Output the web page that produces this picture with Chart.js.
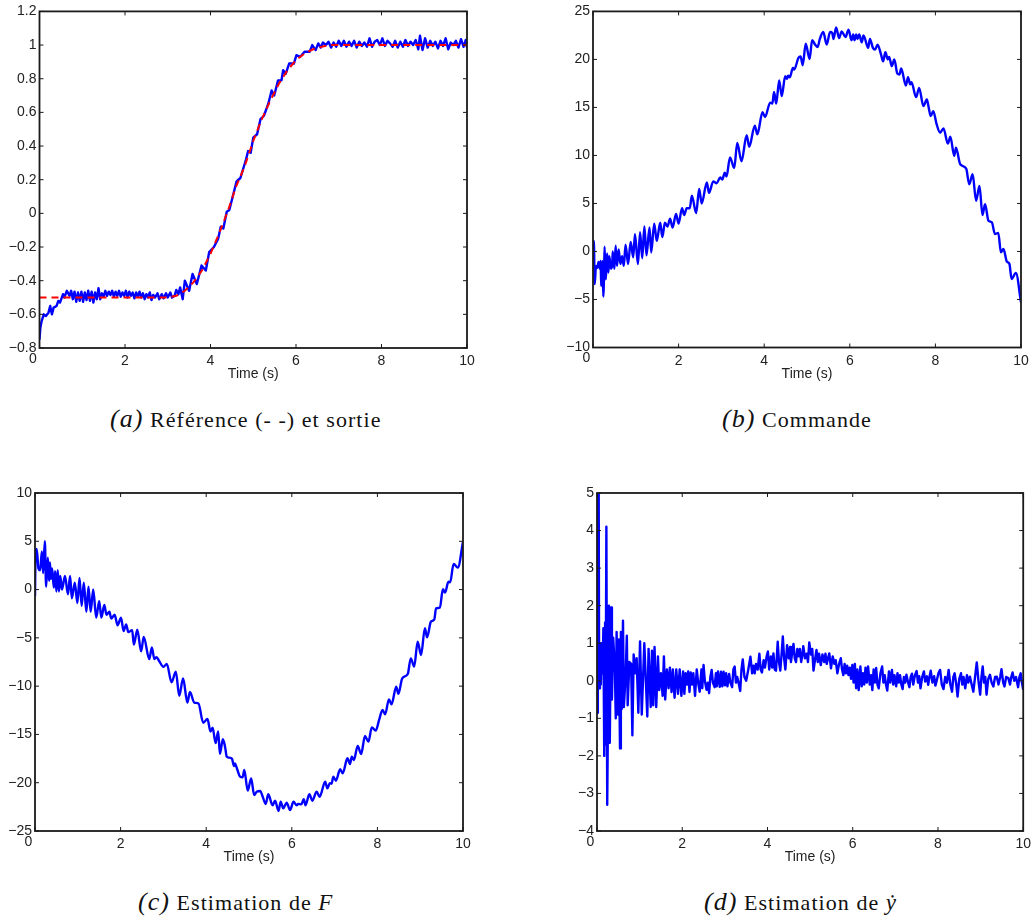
<!DOCTYPE html>
<html>
<head>
<meta charset="utf-8">
<title>Estimation</title>
<script src="https://cdn.jsdelivr.net/npm/chart.js@4"></script>
<style>
body { margin: 0; background: #fff; }
canvas { position: absolute; }
.cap { position: absolute; font-family: "Liberation Serif", serif; font-size: 22px; line-height: 26px; letter-spacing: 1.05px; color: #111; white-space: nowrap; }
.cap i { font-size: 26px; }
.cap i.v { font-size: 23px; }
</style>
</head>
<body>
<canvas id="chartA" width="518" height="400" style="left:0;top:0"></canvas>
<canvas id="chartB" width="518" height="400" style="left:518px;top:0"></canvas>
<canvas id="chartC" width="518" height="400" style="left:0;top:470px"></canvas>
<canvas id="chartD" width="518" height="400" style="left:518px;top:470px"></canvas>
<div class="cap" style="left:110px;top:406px"><i>(a)</i> Référence (- -) et sortie</div>
<div class="cap" style="left:722px;top:406px"><i>(b)</i> Commande</div>
<div class="cap" style="left:138px;top:889px"><i>(c)</i> Estimation de <i class="v">F</i></div>
<div class="cap" style="left:704px;top:889px"><i>(d)</i> Estimation de <i class="v">ẏ</i></div>
<script>
const xTicks = [0, 2, 4, 6, 8, 10]
const yTicksA = [-0.8, -0.6, -0.4, -0.2, 0, 0.2, 0.4, 0.6, 0.8, 1, 1.2]
const yTicksB = [-10, -5, 0, 5, 10, 15, 20, 25]
const yTicksC = [-25, -20, -15, -10, -5, 0, 5, 10]
const yTicksD = [-4, -3, -2, -1, 0, 1, 2, 3, 4, 5]

const reference = [[0,-0.5],[3,-0.5],[3.2,-0.49],[3.4,-0.46],[3.6,-0.41],[3.8,-0.34],[4,-0.24],[4.2,-0.12],[4.4,0.01],[4.6,0.16],[4.8,0.28],[5,0.43],[5.2,0.56],[5.4,0.67],[5.6,0.77],[5.8,0.85],[6,0.91],[6.2,0.95],[6.4,0.975],[6.6,0.99],[6.8,1],[10,1]]

const sortie = [[0,-0.75],[0.02,-0.68],[0.05,-0.64],[0.1,-0.6],[0.15,-0.61],[0.21,-0.59],[0.25,-0.55],[0.29,-0.6],[0.33,-0.56],[0.4,-0.55],[0.44,-0.52],[0.48,-0.53],[0.55,-0.48],[0.58,-0.5],[0.64,-0.46],[0.7,-0.49],[0.74,-0.46],[0.78,-0.51],[0.82,-0.465],[0.86,-0.525],[0.9,-0.47],[0.94,-0.52],[0.98,-0.465],[1.02,-0.525],[1.06,-0.47],[1.1,-0.515],[1.14,-0.46],[1.18,-0.52],[1.22,-0.465],[1.26,-0.53],[1.3,-0.47],[1.34,-0.51],[1.38,-0.445],[1.42,-0.51],[1.46,-0.475],[1.5,-0.495],[1.54,-0.46],[1.58,-0.49],[1.62,-0.465],[1.66,-0.485],[1.7,-0.46],[1.74,-0.495],[1.78,-0.465],[1.82,-0.49],[1.86,-0.46],[1.9,-0.495],[1.94,-0.47],[1.98,-0.49],[2.02,-0.46],[2.06,-0.5],[2.1,-0.465],[2.14,-0.49],[2.18,-0.47],[2.22,-0.505],[2.26,-0.47],[2.3,-0.495],[2.34,-0.465],[2.38,-0.5],[2.42,-0.475],[2.46,-0.51],[2.5,-0.48],[2.54,-0.5],[2.58,-0.47],[2.62,-0.515],[2.66,-0.485],[2.7,-0.5],[2.76,-0.475],[2.8,-0.51],[2.86,-0.48],[2.9,-0.505],[2.96,-0.475],[3,-0.5],[3.06,-0.47],[3.1,-0.5],[3.16,-0.49],[3.2,-0.455],[3.25,-0.48],[3.29,-0.44],[3.35,-0.51],[3.4,-0.4],[3.5,-0.46],[3.58,-0.36],[3.68,-0.42],[3.79,-0.31],[3.89,-0.34],[3.97,-0.23],[4.08,-0.2],[4.18,-0.15],[4.24,-0.08],[4.3,-0.09],[4.38,0.01],[4.44,0.02],[4.51,0.09],[4.61,0.19],[4.7,0.21],[4.83,0.32],[4.88,0.37],[4.94,0.36],[5,0.45],[5.09,0.47],[5.17,0.56],[5.25,0.58],[5.35,0.65],[5.43,0.73],[5.49,0.7],[5.58,0.79],[5.66,0.79],[5.7,0.85],[5.76,0.83],[5.84,0.89],[5.95,0.89],[6.01,0.94],[6.1,0.93],[6.2,0.96],[6.32,0.96],[6.38,1],[6.46,0.97],[6.52,1.01],[6.58,0.985],[6.63,1.015],[6.7,1],[6.76,1.02],[6.82,0.985],[6.88,1.015],[6.94,0.99],[7,1.025],[7.06,0.995],[7.12,1.025],[7.18,0.99],[7.24,1.02],[7.3,0.995],[7.36,1.025],[7.42,0.985],[7.48,1.02],[7.54,0.995],[7.6,1.015],[7.66,0.99],[7.72,1.04],[7.78,0.99],[7.84,1.02],[7.9,1.03],[7.96,1],[8.02,1.04],[8.08,0.995],[8.14,1.025],[8.2,1.01],[8.26,0.99],[8.32,1.025],[8.38,0.985],[8.44,1.02],[8.5,0.99],[8.56,1.03],[8.62,0.995],[8.68,1.02],[8.74,1],[8.8,1.03],[8.86,0.975],[8.9,1.055],[8.96,0.97],[9.02,1.04],[9.08,0.985],[9.14,1.025],[9.2,0.995],[9.26,1.02],[9.32,0.98],[9.38,1.025],[9.44,0.995],[9.5,1.04],[9.56,0.975],[9.62,1.015],[9.68,1],[9.74,1.025],[9.8,0.985],[9.86,1.035],[9.92,0.99],[9.97,1.03],[10,0.985]]

const commande = [[0,0.9],[0.02,1.1],[0.04,-3.4],[0.07,-1.5],[0.1,-1.7],[0.13,-1.1],[0.16,-1.8],[0.18,-1],[0.19,-3.6],[0.22,-1],[0.24,-4.7],[0.26,-2],[0.27,0.5],[0.3,-2.9],[0.33,-0.2],[0.36,-2.2],[0.38,-0.5],[0.42,-1.8],[0.45,-1.3],[0.46,0],[0.5,-1.8],[0.53,0.6],[0.56,-1.5],[0.6,0.2],[0.64,-1.3],[0.68,-0.5],[0.72,-1.5],[0.76,0.7],[0.82,-1.3],[0.88,1],[0.94,-0.6],[0.98,1.8],[1.05,-1.3],[1.1,2],[1.15,-0.7],[1.2,2.6],[1.25,-0.4],[1.32,2.5],[1.36,-0.1],[1.43,2.9],[1.49,1.1],[1.57,3],[1.62,1.5],[1.68,3],[1.74,2.6],[1.8,3.4],[1.86,2.5],[1.94,3.9],[2,2.9],[2.08,4.5],[2.13,3.8],[2.19,4.5],[2.26,4.5],[2.31,5.8],[2.41,4],[2.48,6.5],[2.54,5],[2.66,7.2],[2.71,6.1],[2.81,7.3],[2.89,7.1],[2.97,7.7],[3.02,7.5],[3.08,8.2],[3.12,7.8],[3.2,9.8],[3.3,8.7],[3.37,11.3],[3.47,9.4],[3.59,12.1],[3.65,10.9],[3.78,13.1],[3.84,12.2],[3.96,14.5],[4.02,14],[4.14,15.5],[4.19,15.4],[4.23,16.6],[4.28,15.4],[4.35,17.8],[4.41,16.18],[4.49,18.25],[4.53,17.97],[4.56,18.3],[4.6,18.15],[4.67,19.1],[4.7,18.95],[4.8,20.15],[4.85,20.3],[4.9,19.4],[4.97,21.64],[5.06,20.05],[5.12,22],[5.19,21.54],[5.25,21.3],[5.3,22.13],[5.38,22.85],[5.46,21.54],[5.54,22.85],[5.59,22.75],[5.62,22.13],[5.68,23.34],[5.75,22.23],[5.81,22.92],[5.9,22.33],[5.97,23.1],[6.04,22],[6.08,22.6],[6.11,22],[6.15,22.6],[6.18,22.13],[6.22,22.6],[6.28,21.78],[6.32,22.5],[6.43,21.2],[6.47,22.13],[6.54,21.2],[6.59,21.02],[6.65,21.54],[6.73,20.5],[6.78,19.8],[6.83,20.74],[6.89,20],[6.92,20.26],[6.98,19.29],[7.04,20],[7.11,18.53],[7.16,18.43],[7.2,19.05],[7.31,17.28],[7.36,18.15],[7.41,17.4],[7.44,17.63],[7.55,16.07],[7.62,17.04],[7.72,15.14],[7.8,15.83],[7.84,15.07],[7.89,14.1],[7.95,14.62],[8.03,13.23],[8.11,12.37],[8.19,12.82],[8.29,11.23],[8.35,11.95],[8.44,9.95],[8.48,10.81],[8.58,9.08],[8.72,8.63],[8.79,7],[8.87,8.04],[8.95,5.28],[9.03,6.83],[9.1,3.79],[9.16,4.93],[9.24,3.2],[9.32,3.03],[9.39,1.82],[9.47,1.92],[9.53,-0.09],[9.59,0.26],[9.67,-1.06],[9.73,-1.3],[9.78,-2.86],[9.88,-2.23],[10,-5.28]]

const estimationF = [[0,-0.7],[0.01,3.1],[0.04,4.2],[0.08,2.2],[0.12,2],[0.16,3.96],[0.19,1.7],[0.23,5],[0.26,0.3],[0.3,3.3],[0.33,0.9],[0.35,2.8],[0.37,1.1],[0.4,2.2],[0.44,0.2],[0.47,1.9],[0.5,-0.2],[0.53,2],[0.56,-0.2],[0.59,1.4],[0.63,0],[0.7,1.4],[0.77,-0.5],[0.82,1.4],[0.86,-0.9],[0.93,0.7],[0.99,-1.4],[1.04,1.2],[1.09,-1.7],[1.14,0.7],[1.2,-2.3],[1.25,0.3],[1.3,-2.3],[1.36,0],[1.43,-2.9],[1.5,-1.2],[1.55,-2.9],[1.62,-1.6],[1.67,-2.6],[1.74,-2.3],[1.78,-3],[1.86,-2.6],[1.93,-3.7],[2.01,-2.9],[2.07,-4.3],[2.13,-3.6],[2.18,-4.4],[2.27,-4.2],[2.31,-5.7],[2.39,-4.15],[2.48,-6.4],[2.54,-4.9],[2.67,-7.2],[2.73,-6],[2.79,-7.2],[2.84,-7],[2.9,-7.4],[3,-8],[3.08,-7.7],[3.19,-9.6],[3.29,-8.5],[3.37,-11],[3.46,-9.2],[3.56,-11.7],[3.62,-10.6],[3.72,-11.7],[3.82,-11.8],[3.93,-13.8],[4.03,-13.4],[4.1,-14.7],[4.15,-14.3],[4.22,-15.9],[4.28,-14.7],[4.32,-17],[4.39,-15.5],[4.44,-16.27],[4.48,-17.3],[4.53,-17.4],[4.6,-17.5],[4.65,-18.27],[4.67,-18],[4.73,-18.68],[4.79,-19.37],[4.85,-19.44],[4.89,-18.68],[4.97,-20.82],[5.05,-19.55],[5.12,-21.27],[5.18,-20.93],[5.26,-20.86],[5.32,-21.45],[5.39,-22.2],[5.45,-21.2],[5.55,-22.34],[5.61,-21.86],[5.69,-22.93],[5.74,-21.96],[5.8,-22.65],[5.88,-22.07],[5.96,-22.83],[6.04,-21.96],[6.11,-22.34],[6.15,-22.2],[6.22,-22.24],[6.28,-21.72],[6.32,-22.34],[6.41,-21.2],[6.48,-21.86],[6.58,-20.93],[6.65,-21.45],[6.78,-19.89],[6.83,-20.58],[6.89,-20.06],[6.93,-20.1],[6.97,-19.37],[7.03,-19.79],[7.13,-18.61],[7.19,-19.03],[7.3,-17.47],[7.36,-18.06],[7.4,-17.3],[7.45,-17.65],[7.54,-16.2],[7.62,-17.03],[7.71,-15.16],[7.79,-15.75],[7.87,-14.27],[7.96,-14.61],[8.04,-13.5],[8.12,-12.47],[8.18,-12.92],[8.27,-11.37],[8.33,-11.88],[8.44,-10.05],[8.49,-10.8],[8.58,-9.19],[8.71,-8.74],[8.78,-7.12],[8.86,-7.98],[8.94,-5.39],[9.02,-6.77],[9.11,-4.01],[9.16,-4.95],[9.25,-3.32],[9.33,-3.08],[9.37,-1.94],[9.46,-1.87],[9.53,0.03],[9.58,-0.32],[9.66,0.82],[9.7,0.75],[9.78,2.65],[9.88,2.27],[10,4.96]]

const estimationY = [[0,-0.85],[0.02,5],[0.04,5],[0.05,-0.2],[0.07,1],[0.09,-0.1],[0.11,1],[0.13,0.2],[0.15,1.4],[0.17,-2],[0.19,1.55],[0.2,-1.7],[0.22,4.1],[0.24,-3.3],[0.28,2],[0.3,-1.65],[0.33,1.95],[0.35,-0.5],[0.38,1.15],[0.42,0.3],[0.44,-1],[0.46,1.3],[0.49,-0.9],[0.51,1.1],[0.54,-1.8],[0.56,1.3],[0.58,-0.75],[0.61,1.6],[0.63,-0.7],[0.67,0.1],[0.7,1.2],[0.72,-0.65],[0.76,0.5],[0.8,0.45],[0.83,-1.45],[0.86,0.7],[0.9,0.2],[0.93,0.6],[0.97,-0.85],[1.01,1.05],[1.05,-0.9],[1.11,1],[1.18,-0.95],[1.21,0.85],[1.26,-0.7],[1.29,0.8],[1.32,-0.65],[1.35,0.9],[1.39,-0.7],[1.43,0.65],[1.46,-0.25],[1.5,0.2],[1.54,-0.4],[1.57,0.65],[1.6,-0.5],[1.64,0.3],[1.68,-0.2],[1.71,0.35],[1.75,-0.3],[1.78,0.3],[1.82,-0.45],[1.86,0.3],[1.9,-0.35],[1.94,0.3],[1.98,-0.4],[2.02,0.25],[2.05,-0.35],[2.08,0.2],[2.11,-0.1],[2.14,0.25],[2.17,-0.3],[2.2,0.22],[2.23,-0.1],[2.26,0.2],[2.3,-0.4],[2.34,0.3],[2.38,-0.1],[2.41,-0.29],[2.45,0.3],[2.47,-0.2],[2.5,0.42],[2.53,0],[2.57,-0.24],[2.6,-0.05],[2.63,-0.33],[2.66,0.1],[2.69,0.29],[2.72,-0.05],[2.76,-0.17],[2.79,0.2],[2.81,-0.15],[2.84,0.25],[2.88,-0.16],[2.91,0.24],[2.94,-0.15],[2.97,0.24],[3,-0.12],[3.03,0.2],[3.06,-0.15],[3.1,0.18],[3.13,-0.05],[3.17,-0.17],[3.2,0.3],[3.23,0.38],[3.26,-0.05],[3.29,0.1],[3.33,-0.1],[3.36,-0.27],[3.39,0.3],[3.42,0.57],[3.46,0.1],[3.5,0],[3.55,0.3],[3.6,0.64],[3.64,0.2],[3.67,0.4],[3.7,0.2],[3.73,0.45],[3.77,0.3],[3.81,0.72],[3.84,0.3],[3.87,0.22],[3.91,0.55],[3.94,0.35],[3.98,0.65],[4.01,0.78],[4.04,0.3],[4.08,0.65],[4.11,0.35],[4.14,0.73],[4.17,0.3],[4.2,0.27],[4.24,1.04],[4.27,0.5],[4.3,0.27],[4.33,0.7],[4.36,1.18],[4.39,0.6],[4.42,0.3],[4.46,0.95],[4.5,0.6],[4.53,0.9],[4.55,0.5],[4.58,0.75],[4.61,0.98],[4.64,0.6],[4.67,0.5],[4.7,0.85],[4.73,0.65],[4.76,0.85],[4.79,0.5],[4.82,0.7],[4.84,0.92],[4.88,0.6],[4.92,0.72],[4.95,0.5],[4.98,1.02],[5.02,0.7],[5.05,0.85],[5.08,0.27],[5.12,0.6],[5.15,0.82],[5.18,0.5],[5.21,0.72],[5.25,0.42],[5.29,0.7],[5.33,0.5],[5.36,0.72],[5.39,0.45],[5.42,0.6],[5.45,0.73],[5.49,0.33],[5.53,0.65],[5.57,0.45],[5.6,0.55],[5.64,0.2],[5.68,0.45],[5.72,0.6],[5.75,0.3],[5.78,0.15],[5.81,0.45],[5.84,0.2],[5.87,0.4],[5.9,0.15],[5.93,0.35],[5.96,0.05],[5.99,0.42],[6.02,-0.05],[6.05,0.45],[6.08,-0.2],[6.11,0.3],[6.14,-0.25],[6.18,0.38],[6.21,-0.15],[6.24,0.2],[6.27,-0.1],[6.3,0.35],[6.33,-0.05],[6.36,0.38],[6.4,-0.1],[6.43,0.15],[6.46,-0.25],[6.49,0.3],[6.52,-0.05],[6.55,0.34],[6.58,-0.1],[6.61,-0.2],[6.65,0.2],[6.69,0.38],[6.72,-0.05],[6.75,0.15],[6.78,-0.1],[6.81,-0.26],[6.85,0.25],[6.88,-0.05],[6.92,0.29],[6.95,-0.1],[6.98,0.15],[7.02,-0.15],[7.05,0.2],[7.08,-0.05],[7.11,0.15],[7.14,-0.1],[7.17,-0.22],[7.2,0.1],[7.23,-0.05],[7.26,0.16],[7.3,-0.05],[7.33,-0.17],[7.36,0.1],[7.39,0.19],[7.42,-0.1],[7.46,0.15],[7.5,0.26],[7.53,-0.05],[7.56,0.12],[7.59,-0.2],[7.63,0.1],[7.67,0.25],[7.7,-0.02],[7.74,0.12],[7.77,-0.11],[7.8,0.1],[7.83,0.27],[7.87,-0.05],[7.91,0.12],[7.94,-0.13],[7.98,0.05],[8.01,0.2],[8.05,0.29],[8.09,-0.1],[8.13,-0.22],[8.17,0.1],[8.21,-0.05],[8.25,0.29],[8.29,-0.1],[8.33,-0.29],[8.36,0.1],[8.39,0.2],[8.43,-0.1],[8.46,-0.42],[8.5,0.05],[8.54,0.2],[8.57,-0.1],[8.6,0.1],[8.64,-0.2],[8.68,0.15],[8.71,-0.05],[8.75,0.11],[8.79,-0.1],[8.83,-0.29],[8.87,0.1],[8.91,0.49],[8.95,0],[8.99,-0.37],[9.02,0.1],[9.05,0.38],[9.08,-0.05],[9.11,0.1],[9.14,-0.37],[9.18,0.05],[9.22,0.16],[9.26,-0.05],[9.3,-0.15],[9.34,0.1],[9.38,0.11],[9.42,-0.1],[9.46,0.1],[9.49,0.31],[9.53,-0.05],[9.56,-0.15],[9.6,0.1],[9.65,0.07],[9.69,-0.1],[9.72,0.1],[9.75,0.22],[9.79,0],[9.83,0.1],[9.88,-0.17],[9.91,0.1],[9.94,0.2],[9.97,-0.05],[10,-0.24]]

// inward matlab style ticks + box, and the "0" that sits left of the axis
const matlabBox = {
    id: 'matlabBox',
    afterDraw(chart) {
        const ctx = chart.ctx
        const area = chart.chartArea
        const tl = 4
        ctx.save()
        ctx.strokeStyle = '#1a1a1a'
        ctx.lineWidth = 1
        ctx.beginPath()
        chart.scales.x.ticks.forEach(t => {
            const px = chart.scales.x.getPixelForValue(t.value)
            ctx.moveTo(px, area.top)
            ctx.lineTo(px, area.top + tl)
            ctx.moveTo(px, area.bottom)
            ctx.lineTo(px, area.bottom - tl)
        })
        chart.scales.y.ticks.forEach(t => {
            const py = chart.scales.y.getPixelForValue(t.value)
            ctx.moveTo(area.left, py)
            ctx.lineTo(area.left + tl, py)
            ctx.moveTo(area.right, py)
            ctx.lineTo(area.right - tl, py)
        })
        ctx.stroke()
        ctx.lineWidth = 1.8
        ctx.strokeRect(area.left, area.top, area.right - area.left, area.bottom - area.top)
        ctx.fillStyle = '#222'
        ctx.font = '14px "Liberation Sans"'
        ctx.textAlign = 'center'
        ctx.textBaseline = 'middle'
        ctx.fillText('0', area.left - 6.5, area.bottom + 11)
        ctx.restore()
    }
}

function points(series) {
    return series.map(p => ({x: p[0], y: p[1]}))
}

function makeChart(id, datasets, yTicks, box) {
    return new Chart(document.getElementById(id), {
        type: 'line',
        data: {datasets: datasets},
        plugins: [matlabBox],
        options: {
            responsive: false,
            animation: false,
            parsing: false,
            normalized: true,
            elements: {point: {radius: 0}, line: {tension: 0}},
            layout: {padding: {top: box.top, right: box.right, left: 0, bottom: 400 - box.bottom - 35}},
            plugins: {legend: {display: false}, tooltip: {enabled: false}},
            scales: {
                x: {
                    type: 'linear', min: 0, max: 10,
                    afterBuildTicks: s => { s.ticks = xTicks.map(v => ({value: v})) },
                    afterFit: s => { s.height = 35 },
                    grid: {display: false, drawTicks: false},
                    border: {display: false},
                    ticks: {
                        padding: 5, maxRotation: 0, autoSkip: false, color: '#222',
                        font: {family: 'Liberation Sans', size: 14},
                        callback: v => v === 0 ? '' : String(v)
                    },
                    title: {
                        display: true, text: 'Time (s)', color: '#222',
                        font: {family: 'Liberation Sans', size: 14},
                        padding: {top: 0, bottom: 0}
                    }
                },
                y: {
                    type: 'linear', min: yTicks[0], max: yTicks[yTicks.length - 1],
                    afterBuildTicks: s => { s.ticks = yTicks.map(v => ({value: v})) },
                    afterFit: s => { s.width = box.left },
                    grid: {display: false, drawTicks: false},
                    border: {display: false},
                    ticks: {
                        padding: 3, autoSkip: false, color: '#222',
                        font: {family: 'Liberation Sans', size: 14},
                        callback: v => String(+v.toFixed(1)).replace('-', '\u2212')
                    }
                }
            }
        }
    })
}

function blue(series, smooth) {
    const ds = {data: points(series), borderColor: '#0000ff', borderWidth: 2.4, borderJoinStyle: 'round', order: 2}
    if (smooth) ds.cubicInterpolationMode = 'monotone'
    return ds
}

makeChart('chartA', [
    blue(sortie, false),
    {data: points(reference), borderColor: '#ff0000', borderWidth: 2, borderDash: [7, 5], order: 1}
], yTicksA, {left: 39.5, top: 10, right: 51, bottom: 348})
makeChart('chartB', [blue(commande, true)], yTicksB, {left: 75, top: 10, right: 15, bottom: 347.5})
makeChart('chartC', [blue(estimationF, true)], yTicksC, {left: 35, top: 23, right: 55, bottom: 361})
makeChart('chartD', [blue(estimationY, false)], yTicksD, {left: 79, top: 23, right: 11, bottom: 361})
</script>
</body>
</html>
